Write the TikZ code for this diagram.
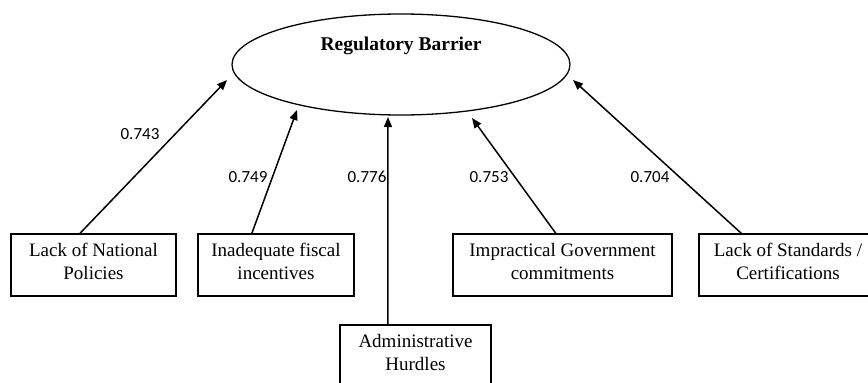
\documentclass[tikz,border=0pt]{standalone}
\usepackage{fontspec}
\setmainfont{Liberation Serif}
\newfontfamily\labfont{Carlito}
\usetikzlibrary{shapes.geometric,arrows.meta,calc}
\begin{document}
\begin{tikzpicture}[x=1pt,y=-1pt,
  boxstyle/.style={draw,line width=1.1pt,inner sep=0pt,align=center,
    text depth=7pt,font=\fontsize{19}{22.5}\selectfont},
  arr/.style={line width=1.5pt,-{Triangle[length=10pt,width=8pt]}},
  lab/.style={font=\labfont\fontsize{17}{20}\selectfont,inner sep=0pt}]
\useasboundingbox (0,0) rectangle (868,383);
\clip (0,0) rectangle (868,383);
\node[ellipse,draw,line width=1.3pt,minimum width=338pt,minimum height=101pt,inner sep=0pt] (rb) at (401,64.5) {};
\node[font=\bfseries\fontsize{19.5}{22}\selectfont,inner sep=0pt] (title) at (401,46) {Regulatory Barrier};

\node[boxstyle,minimum width=165pt,minimum height=62pt] (b1) at (93.5,265) {Lack of National\\Policies};
\node[boxstyle,minimum width=156pt,minimum height=62pt] (b2) at (276,265) {Inadequate fiscal\\incentives};
\node[boxstyle,minimum width=219pt,minimum height=62pt] (b3) at (562.5,265) {Impractical Government\\commitments};
\node[boxstyle,minimum width=178pt,minimum height=62pt] (b4) at (788,265) {Lack of Standards /\\Certifications};
\node[boxstyle,minimum width=151pt,minimum height=62pt] (b5) at (415.5,356) {Administrative\\Hurdles};

\coordinate (t1) at (227,80);
\coordinate (t2) at (297,110);
\coordinate (t3) at (388,117);
\coordinate (t4) at (472,118);
\coordinate (t5) at (573,80);

\draw[arr] ($(b1.north west)!0.418!(b1.north east)$) -- (t1);
\draw[arr] ($(b2.north west)!0.346!(b2.north east)$) -- (t2);
\draw[arr] ($(b5.north west)!0.318!(b5.north east)$) -- (t3);
\draw[arr] ($(b3.north west)!0.47!(b3.north east)$) -- (t4);
\draw[arr] ($(b4.north west)!0.24!(b4.north east)$) -- (t5);

\node[lab] (l1) at (140,134) {0.743};
\node[lab] (l2) at (248,177) {0.749};
\node[lab] (l3) at (367,177) {0.776};
\node[lab] (l4) at (489,177) {0.753};
\node[lab] (l5) at (650,177) {0.704};
\end{tikzpicture}
\end{document}
